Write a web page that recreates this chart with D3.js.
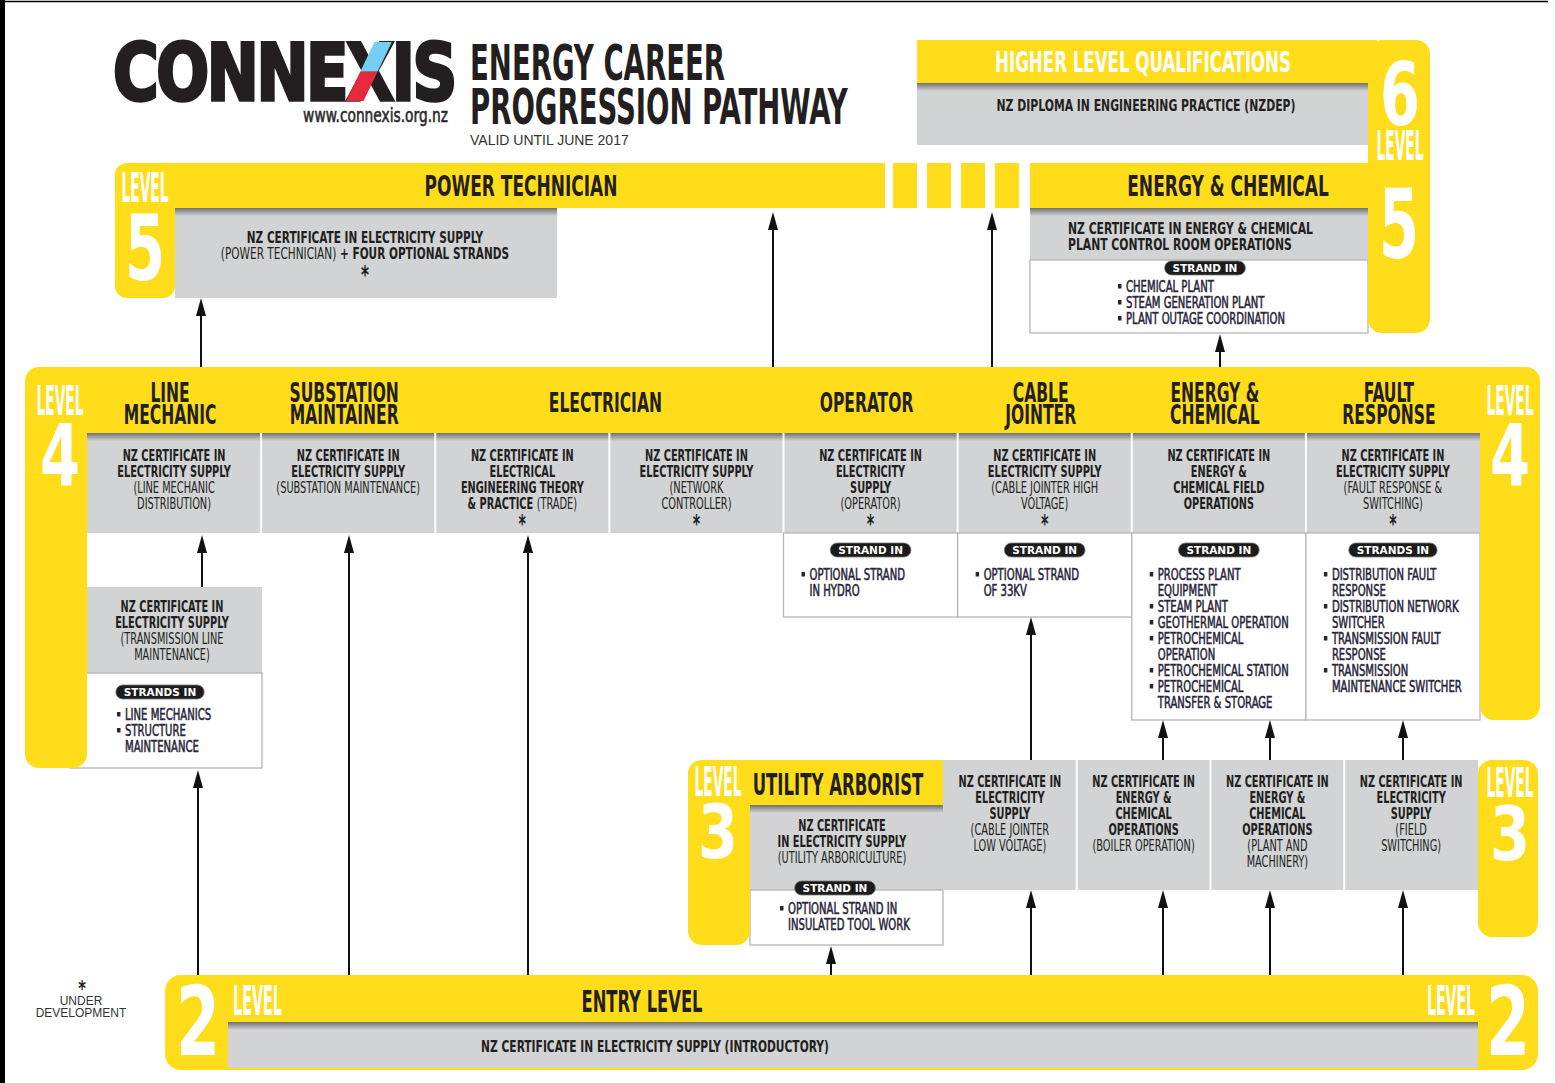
<!DOCTYPE html>
<html>
<head>
<meta charset="utf-8">
<script src="https://cdn.jsdelivr.net/npm/d3@7"></script>
<style>
  html, body { margin: 0; padding: 0; background: #fff; }
  svg { display: block; }
</style>
</head>
<body>
<div id="chart"></div>
<script>
// ---------- content (text in {} is set in regular weight) ----------
const brand = "CONNEXIS";
const website = "www.connexis.org.nz";
const titleLines = ["ENERGY CAREER", "PROGRESSION PATHWAY"];
const validUntil = "VALID UNTIL JUNE 2017";
const footnote = ["UNDER", "DEVELOPMENT"];

const level6Title = "HIGHER LEVEL QUALIFICATIONS";
const level6Cert = ["NZ DIPLOMA IN ENGINEERING PRACTICE (NZDEP)"];

const level5Roles = ["POWER TECHNICIAN", "ENERGY & CHEMICAL"];
const level5PowerCert = ["NZ CERTIFICATE IN ELECTRICITY SUPPLY", "{(POWER TECHNICIAN)} + FOUR OPTIONAL STRANDS", "*"];
const level5ChemCert = ["NZ CERTIFICATE IN ENERGY & CHEMICAL", "PLANT CONTROL ROOM OPERATIONS"];
const level5ChemStrands = [["CHEMICAL PLANT"], ["STEAM GENERATION PLANT"], ["PLANT OUTAGE COORDINATION"]];

const level4Roles = [["LINE", "MECHANIC"], ["SUBSTATION", "MAINTAINER"], ["ELECTRICIAN"], ["OPERATOR"],
  ["CABLE", "JOINTER"], ["ENERGY &", "CHEMICAL"], ["FAULT", "RESPONSE"]];
const level4RoleSpan = [1, 1, 2, 1, 1, 1, 1];
const level4Certs = [
  ["NZ CERTIFICATE IN", "ELECTRICITY SUPPLY", "{(LINE MECHANIC}", "{DISTRIBUTION)}"],
  ["NZ CERTIFICATE IN", "ELECTRICITY SUPPLY", "{(SUBSTATION MAINTENANCE)}"],
  ["NZ CERTIFICATE IN", "ELECTRICAL", "ENGINEERING THEORY", "& PRACTICE {(TRADE)}", "*"],
  ["NZ CERTIFICATE IN", "ELECTRICITY SUPPLY", "{(NETWORK}", "{CONTROLLER)}", "*"],
  ["NZ CERTIFICATE IN", "ELECTRICITY", "SUPPLY", "{(OPERATOR)}", "*"],
  ["NZ CERTIFICATE IN", "ELECTRICITY SUPPLY", "{(CABLE JOINTER HIGH}", "{VOLTAGE)}", "*"],
  ["NZ CERTIFICATE IN", "ENERGY &", "CHEMICAL FIELD", "OPERATIONS"],
  ["NZ CERTIFICATE IN", "ELECTRICITY SUPPLY", "{(FAULT RESPONSE &}", "{SWITCHING)}", "*"]
];
const level4StrandTitles = [null, null, null, null, "STRAND IN", "STRAND IN", "STRAND IN", "STRANDS IN"];
const level4Strands = [null, null, null, null,
  [["OPTIONAL STRAND", "IN HYDRO"]],
  [["OPTIONAL STRAND", "OF 33KV"]],
  [["PROCESS PLANT", "EQUIPMENT"], ["STEAM PLANT"], ["GEOTHERMAL OPERATION"], ["PETROCHEMICAL", "OPERATION"],
   ["PETROCHEMICAL STATION"], ["PETROCHEMICAL", "TRANSFER & STORAGE"]],
  [["DISTRIBUTION FAULT", "RESPONSE"], ["DISTRIBUTION NETWORK", "SWITCHER"], ["TRANSMISSION FAULT", "RESPONSE"],
   ["TRANSMISSION", "MAINTENANCE SWITCHER"]]
];
const transmissionCert = ["NZ CERTIFICATE IN", "ELECTRICITY SUPPLY", "{(TRANSMISSION LINE}", "{MAINTENANCE)}"];
const transmissionStrands = [["LINE MECHANICS"], ["STRUCTURE", "MAINTENANCE"]];

const level3Role = "UTILITY ARBORIST";
const arboristCert = ["NZ CERTIFICATE", "IN ELECTRICITY SUPPLY", "{(UTILITY ARBORICULTURE)}"];
const arboristStrands = [["OPTIONAL STRAND IN", "INSULATED TOOL WORK"]];
const level3Certs = [
  ["NZ CERTIFICATE IN", "ELECTRICITY", "SUPPLY", "{(CABLE JOINTER}", "{LOW VOLTAGE)}"],
  ["NZ CERTIFICATE IN", "ENERGY &", "CHEMICAL", "OPERATIONS", "{(BOILER OPERATION)}"],
  ["NZ CERTIFICATE IN", "ENERGY &", "CHEMICAL", "OPERATIONS", "{(PLANT AND}", "{MACHINERY)}"],
  ["NZ CERTIFICATE IN", "ELECTRICITY", "SUPPLY", "{(FIELD}", "{SWITCHING)}"]
];

const level2Role = "ENTRY LEVEL";
const level2Cert = ["NZ CERTIFICATE IN ELECTRICITY SUPPLY (INTRODUCTORY)"];

// ---------- drawing ----------
const W = 1555, H = 1083;
const YELLOW = "#FFDD1A", GREY = "#D1D3D4", INK = "#231F20", NAVY = "#28243A", EDGE = "#B5B5B5";
const COND = "'DejaVu Sans Condensed', 'DejaVu Sans', sans-serif";

const svg = d3.select("#chart").append("svg")
  .attr("width", W).attr("height", H)
  .style("background", "#fff");

const defs = svg.append("defs");
const shade = defs.append("linearGradient").attr("id", "shade")
  .attr("x1", 0).attr("y1", 0).attr("x2", 0).attr("y2", 1);
shade.append("stop").attr("offset", "0%").attr("stop-color", "#707070");
shade.append("stop").attr("offset", "100%").attr("stop-color", GREY);

function box(x, y, w, h, fill, r) {
  return svg.append("rect").attr("x", x).attr("y", y).attr("width", w).attr("height", h)
    .attr("rx", r || 0).attr("fill", fill);
}
function greyBox(x, y, w, h, shadow) {
  box(x, y, w, h, GREY);
  if (shadow) box(x, y, w, 8, "url(#shade)");
}
function whiteBox(x, y, w, h) {
  box(x, y, w, h, "#fff").attr("stroke", EDGE).attr("stroke-width", 1.3);
}

// multi-line condensed text; horizontal squeeze via scale
function block(parent, x, y, lines, o) {
  o = o || {};
  const size = o.size || 16.5, lh = o.lh || 16, sx = o.sx || 0.66;
  const g = parent.append("g").attr("transform", `translate(${x},${y}) scale(${sx},1)`);
  const t = g.append("text")
    .attr("text-anchor", o.anchor || "middle")
    .attr("fill", o.fill || INK)
    .style("font-family", o.family || COND)
    .style("font-size", size + "px")
    .style("font-weight", o.weight || "bold");
  if (o.spacing) t.style("letter-spacing", o.spacing + "px");
  if (o.stroke) t.attr("stroke", o.fill || INK).attr("stroke-width", o.stroke);
  lines.forEach((line, i) => {
    if (line === "*") {
      // the "under development" star sits lower and larger than a text asterisk
      t.append("tspan").attr("x", 0).attr("y", i * lh + 7).style("font-size", (size * 1.45) + "px").text("*");
      return;
    }
    line.split(/(\{[^}]*\})/).filter(s => s.length).forEach((p, j) => {
      const reg = p.startsWith("{");
      const ts = t.append("tspan").text(reg ? p.slice(1, -1) : p);
      if (j === 0) ts.attr("x", 0).attr("y", i * lh);
      if (reg) ts.style("font-weight", "normal");
    });
  });
  let k = sx;
  if (o.fit) {
    k = o.fit / t.node().getBBox().width;
    g.attr("transform", `translate(${x},${y}) scale(${k},1)`);
  }
  return { g, t, k };
}

function pill(cx, cy, label) {
  const g = svg.append("g");
  const t = g.append("text").attr("x", cx).attr("y", cy + 4)
    .attr("text-anchor", "middle").attr("fill", "#fff")
    .style("font-family", "'DejaVu Sans', sans-serif").style("font-weight", "bold")
    .style("font-size", "10.5px").text(label);
  const w = t.node().getComputedTextLength() + 16;
  g.insert("rect", "text").attr("x", cx - w / 2).attr("y", cy - 7).attr("width", w).attr("height", 14)
    .attr("rx", 7).attr("fill", "#1b1b1b").attr("stroke", "#777").attr("stroke-width", 0.8);
}

function strandList(x, y, items, lh) {
  lh = lh || 16;
  let row = 0;
  items.forEach(item => {
    box(x, y + row * lh - 8, 3.5, 4.5, NAVY);
    block(svg, x + 8, y + row * lh, item, { anchor: "start", weight: "normal", size: 16, lh, fill: NAVY, sx: 0.7, stroke: 0.55 });
    row += item.length;
  });
}

function levelTag(cx, levelY, digitY, n, digitSize) {
  block(svg, cx, levelY, ["LEVEL"], { size: 40, fit: 47, fill: "#fff" });
  block(svg, cx, digitY, [n], { size: digitSize, fit: 40, fill: "#fff" });
}

// page frame
box(0, 0, 5, H, "#000");
svg.append("line").attr("x1", 0).attr("x2", 1548).attr("y1", 1.5).attr("y2", 1.5)
  .attr("stroke", "#000").attr("stroke-width", 1.5);

// ---- logo + title ----
const logo = block(svg, 113, 100, [brand], { family: "'DejaVu Sans', sans-serif", size: 78, fit: 342, anchor: "start", spacing: -3, stroke: 3.5 });
{
  const ext = logo.t.node().getExtentOfChar(5);
  const xl = 113 + ext.x * logo.k, xr = xl + ext.width * logo.k;
  const yb = 101, yt = 42, sw = (xr - xl) * 0.38;
  const ym = (yb + yt) / 2, xm = (xl + xr) / 2;
  svg.append("path").attr("fill", "#E8283C")
    .attr("d", `M${xl},${yb}L${xl + sw},${yb}L${xm + sw / 2},${ym}L${xm - sw / 2},${ym}Z`);
  svg.append("path").attr("fill", "#74CFF2")
    .attr("d", `M${xm - sw / 2},${ym}L${xm + sw / 2},${ym}L${xr},${yt}L${xr - sw},${yt}Z`);
}
block(svg, 448, 122, [website], { size: 20, fit: 145, anchor: "end", weight: "normal", fill: "#2b2b2b", stroke: 0.6 });
block(svg, 470, 80, titleLines, { size: 50, lh: 44, fit: 378, anchor: "start" });
svg.append("text").attr("x", 470).attr("y", 145).attr("fill", "#333")
  .style("font-family", "'Liberation Sans', Arial, sans-serif").style("font-size", "14px").text(validUntil);

// ---- level 6 ----
box(917, 40, 460, 43, YELLOW);
greyBox(917, 83, 451, 62, true);
block(svg, 1143, 72, [level6Title], { size: 28, fit: 296, fill: "#fff" });
block(svg, 1146, 111, level6Cert, { fit: 299 });

// ---- level 5 ----
box(140, 163, 745, 45, YELLOW);
const dashX = d3.range(4).map(i => 893 + i * 34);
svg.selectAll("rect.dash").data(dashX).enter().append("rect").attr("class", "dash")
  .attr("x", d => d).attr("y", 163).attr("width", 24).attr("height", 45).attr("fill", YELLOW);
box(1030, 163, 345, 45, YELLOW);
greyBox(175, 208, 382, 90, true);
greyBox(1030, 208, 338, 52, true);
whiteBox(1030, 260, 338, 73);
box(115, 163, 60, 135, YELLOW, 12);
box(1368, 40, 62, 293, YELLOW, 14);

block(svg, 521, 196, [level5Roles[0]], { size: 28, fit: 193 });
block(svg, 1228, 196, [level5Roles[1]], { size: 28, fit: 202 });
block(svg, 365, 243, level5PowerCert, { lh: 16.5, sx: 0.71 });
block(svg, 1068, 234, level5ChemCert, { anchor: "start", fit: 245 });
pill(1205, 268, "STRAND IN");
strandList(1118, 292, level5ChemStrands);
levelTag(1400, 160, 125, "6", 88);
block(svg, 1399, 258, ["5"], { size: 96, fit: 40, fill: "#fff" });
levelTag(145, 202, 280, "5", 90);

// ---- level 4 ----
const x4 = d3.scaleBand().domain(d3.range(level4Certs.length)).range([87, 1480]);
const bw4 = x4.bandwidth();
const strandBottom = [0, 0, 0, 0, 617, 617, 720, 720];

box(40, 367, 1485, 66, YELLOW);
greyBox(87, 433, 1393, 100, true);
svg.selectAll("line.div4").data(d3.range(1, level4Certs.length)).enter().append("line").attr("class", "div4")
  .attr("x1", d => x4(d)).attr("x2", d => x4(d)).attr("y1", 433).attr("y2", 533)
  .attr("stroke", "#fff").attr("stroke-width", 2);
level4Strands.forEach((s, i) => {
  if (s) whiteBox(x4(i), 533, bw4, strandBottom[i] - 533);
});
greyBox(87, 587, 175, 86, false);
whiteBox(70, 673, 192, 95);
box(25, 367, 62, 401, YELLOW, 14);
box(1480, 367, 60, 353, YELLOW, 14);

let start = 0;
level4Roles.forEach((lines, i) => {
  const span = level4RoleSpan[i];
  const cx = (x4(start) + x4(start + span - 1) + bw4) / 2 - 4;
  block(svg, cx, lines.length === 2 ? 402 : 412, lines, { size: 27, lh: 22, sx: 0.64 });
  start += span;
});
level4Certs.forEach((lines, i) => block(svg, x4(i) + bw4 / 2, 461, lines));
level4Strands.forEach((s, i) => {
  if (!s) return;
  pill(x4(i) + bw4 / 2, 550, level4StrandTitles[i]);
  strandList(x4(i) + 18, 580, s);
});
block(svg, 172, 612, transmissionCert);
pill(160, 692, "STRANDS IN");
strandList(117, 720, transmissionStrands);
levelTag(60, 415, 485, "4", 86);
levelTag(1510, 415, 485, "4", 86);

// ---- level 3 ----
const x3 = d3.scaleBand().domain(d3.range(level3Certs.length)).range([943, 1478]);
const bw3 = x3.bandwidth();

box(730, 760, 213, 45, YELLOW);
greyBox(750, 805, 193, 85, true);
whiteBox(750, 890, 193, 55);
box(688, 760, 62, 185, YELLOW, 14);
greyBox(943, 760, 535, 130, false);
svg.selectAll("line.div3").data(d3.range(1, level3Certs.length)).enter().append("line").attr("class", "div3")
  .attr("x1", d => x3(d)).attr("x2", d => x3(d)).attr("y1", 760).attr("y2", 890)
  .attr("stroke", "#fff").attr("stroke-width", 2);
box(1478, 760, 60, 177, YELLOW, 14);

block(svg, 838, 795, [level3Role], { size: 30, fit: 171 });
block(svg, 842, 831, arboristCert);
pill(835, 888, "STRAND IN");
strandList(780, 914, arboristStrands);
level3Certs.forEach((lines, i) => block(svg, x3(i) + bw3 / 2, 787, lines));
levelTag(718, 796, 858, "3", 74);
levelTag(1510, 797, 860, "3", 74);

// ---- level 2 ----
box(165, 975, 1373, 95, YELLOW, 16);
greyBox(228, 1022, 1250, 46, true);
block(svg, 642, 1012, [level2Role], { size: 30, fit: 121 });
block(svg, 655, 1052, level2Cert, { fit: 348 });
block(svg, 198, 1055, ["2"], { size: 96, fit: 44, fill: "#fff" });
block(svg, 233, 1015, ["LEVEL"], { size: 40, fit: 49, anchor: "start", fill: "#fff" });
block(svg, 1427, 1015, ["LEVEL"], { size: 40, fit: 48, anchor: "start", fill: "#fff" });
block(svg, 1508, 1055, ["2"], { size: 96, fit: 44, fill: "#fff" });

// footnote
block(svg, 82, 989, ["*"], { size: 14, sx: 0.8 });
svg.selectAll("text.foot").data(footnote).enter().append("text").attr("class", "foot")
  .attr("x", 81).attr("y", (d, i) => 1005 + i * 12).attr("text-anchor", "middle").attr("fill", "#333")
  .style("font-family", "'Liberation Sans', Arial, sans-serif").style("font-size", "12px").text(d => d);

// ---- arrows: [x, tail y, tip y] ----
const arrows = [
  [201, 367, 298], [773, 367, 212], [992, 367, 212], [1220, 367, 334],
  [202, 587, 535], [198, 975, 770], [349, 975, 535], [528, 975, 535], [831, 975, 946],
  [1031, 975, 890], [1031, 760, 617], [1163, 975, 890], [1163, 760, 720],
  [1270, 975, 890], [1270, 760, 720], [1403, 975, 890], [1403, 760, 720]
];
const ag = svg.append("g");
ag.selectAll("line").data(arrows).enter().append("line")
  .attr("x1", d => d[0]).attr("x2", d => d[0]).attr("y1", d => d[1]).attr("y2", d => d[2] + 10)
  .attr("stroke", "#111").attr("stroke-width", 2);
ag.selectAll("path").data(arrows).enter().append("path")
  .attr("d", d => `M${d[0] - 5},${d[2] + 18}L${d[0] + 5},${d[2] + 18}L${d[0]},${d[2]}Z`)
  .attr("fill", "#111");
</script>
</body>
</html>
